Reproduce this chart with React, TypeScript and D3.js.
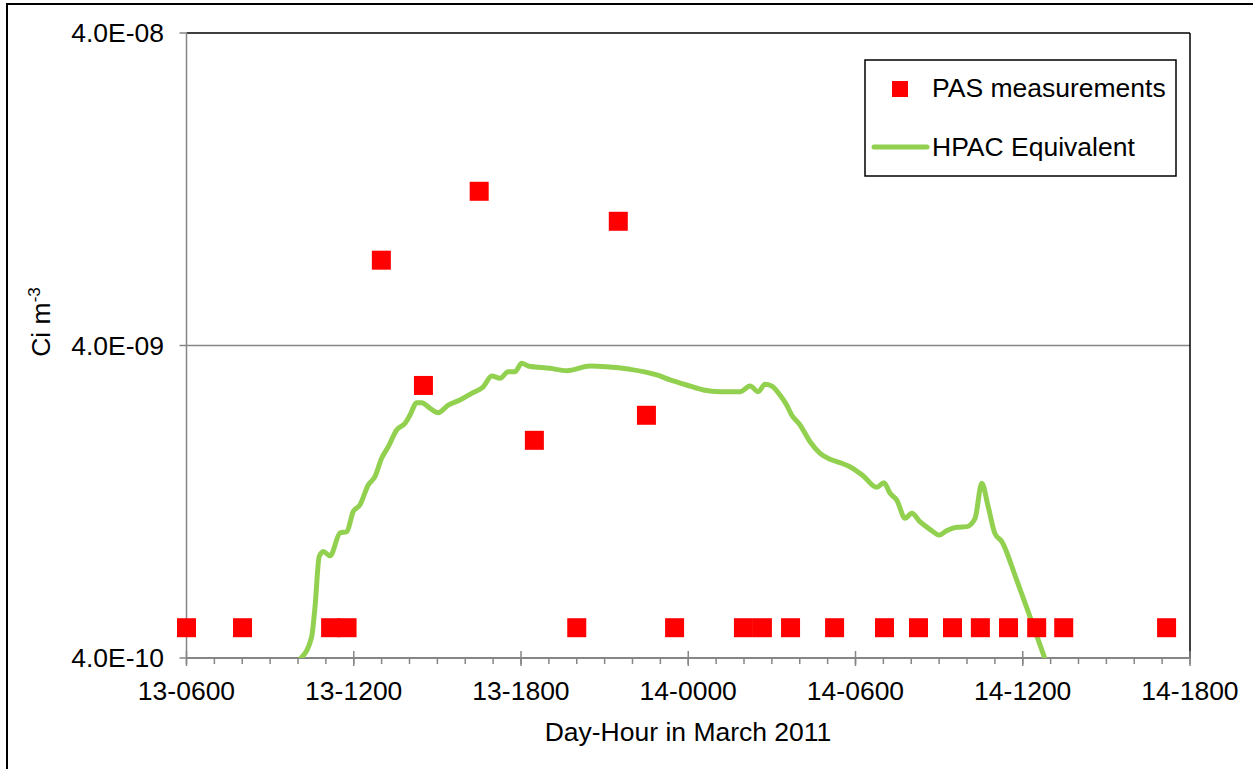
import React from "react";
import * as d3 from "d3";

// Hours counted from 13 March 00:00
const hpacHours = [10.11, 10.49, 10.61, 10.76, 10.91, 11.15, 11.51, 11.75, 11.98, 12.22, 12.52, 12.76, 13.0, 13.24, 13.54, 13.84, 14.02, 14.26, 14.44, 14.74, 15.03, 15.39, 15.81, 16.23, 16.65, 16.95, 17.25, 17.54, 17.78, 18.03, 18.26, 19.04, 19.64, 20.48, 21.07, 21.91, 22.87, 23.35, 23.94, 24.54, 25.14, 25.86, 26.22, 26.51, 26.75, 26.99, 27.29, 27.53, 27.71, 28.01, 28.37, 28.73, 29.09, 29.44, 29.8, 30.28, 30.76, 31.02, 31.24, 31.48, 31.78, 32.02, 32.31, 32.67, 33.01, 33.27, 33.63, 33.99, 34.29, 34.53, 34.76, 35.0, 35.25, 35.78, 36.26, 36.8];
const hpacValues = [4.0e-10, 4.68e-10, 5.82e-10, 8.44e-10, 8.76e-10, 8.49e-10, 1.005e-9, 1.014e-9, 1.176e-9, 1.235e-9, 1.431e-9, 1.522e-9, 1.742e-9, 1.898e-9, 2.146e-9, 2.254e-9, 2.398e-9, 2.624e-9, 2.624e-9, 2.518e-9, 2.438e-9, 2.58e-9, 2.677e-9, 2.812e-9, 2.953e-9, 3.196e-9, 3.141e-9, 3.298e-9, 3.298e-9, 3.508e-9, 3.44e-9, 3.381e-9, 3.323e-9, 3.44e-9, 3.422e-9, 3.357e-9, 3.22e-9, 3.103e-9, 2.99e-9, 2.882e-9, 2.846e-9, 2.846e-9, 2.968e-9, 2.846e-9, 3.005e-9, 2.968e-9, 2.778e-9, 2.58e-9, 2.398e-9, 2.227e-9, 1.969e-9, 1.808e-9, 1.729e-9, 1.687e-9, 1.638e-9, 1.53e-9, 1.407e-9, 1.456e-9, 1.346e-9, 1.281e-9, 1.12e-9, 1.162e-9, 1.092e-9, 1.032e-9, 9.9e-10, 1.022e-9, 1.048e-9, 1.053e-9, 1.12e-9, 1.449e-9, 1.22e-9, 1.002e-9, 9.43e-10, 7.11e-10, 5.42e-10, 3.97e-10];

const pasHours = [6.0, 8.01, 11.17, 11.76, 12.99, 14.5, 16.5, 18.48, 20.0, 21.49, 22.5, 23.51, 25.98, 26.66, 27.67, 29.25, 31.04, 32.26, 33.48, 34.48, 35.49, 36.5, 37.47, 41.16];
const pasValues = [5.0e-10, 5.0e-10, 5.0e-10, 5.0e-10, 7.5e-9, 2.98e-9, 1.246e-8, 1.989e-9, 5.0e-10, 9.99e-9, 2.392e-9, 5.0e-10, 5.0e-10, 5.0e-10, 5.0e-10, 5.0e-10, 5.0e-10, 5.0e-10, 5.0e-10, 5.0e-10, 5.0e-10, 5.0e-10, 5.0e-10, 5.0e-10];

const xTickHours = [6, 12, 18, 24, 30, 36, 42];
const xTickLabels = ["13-0600", "13-1200", "13-1800", "14-0000", "14-0600", "14-1200", "14-1800"];
const yTickValues = [4.0e-10, 4.0e-9, 4.0e-8];
const yTickLabels = ["4.0E-10", "4.0E-09", "4.0E-08"];
const seriesNames = ["PAS measurements", "HPAC Equivalent"];

const W = 1253;
const H = 769;
const FONT = "'Liberation Sans', Arial, sans-serif";
const FS = 26.5;
const GRAY = "#868686";
const GREEN = "#92D050";
const RED = "#FF0000";

export default function App() {
  const left = 186.5, right = 1190, top = 33, bottom = 658;
  const x = d3.scaleLinear().domain([6, 42]).range([left, right]);
  const y = d3.scaleLog().domain([4.0e-10, 4.0e-8]).range([bottom, top]);

  const linePts: [number, number][] = hpacHours.map((h, i) => [h, hpacValues[i]]);
  const lineGen = d3
    .line<[number, number]>()
    .x((d) => x(d[0]))
    .y((d) => y(d[1]))
    .curve(d3.curveMonotoneX);

  const minorHours = d3.range(6, 43, 1);
  const ms = 19;

  return (
    <svg width={W} height={H} style={{ position: "absolute", left: 0, top: 0, background: "#fff" }} fontFamily={FONT}>
      <rect x={0} y={0} width={W} height={H} fill="#fff" />
      {/* outer chart border */}
      <rect x={7} y={4} width={W + 20} height={H + 20} fill="none" stroke="#000" strokeWidth={2} />
      <defs>
        <clipPath id="plotClip">
          <rect x={left} y={top} width={right - left} height={bottom - top} />
        </clipPath>
      </defs>
      {/* gridlines */}
      {yTickValues.slice(1, 2).map((v) => (
        <line key={v} x1={left} x2={right} y1={y(v)} y2={y(v)} stroke={GRAY} strokeWidth={1.5} />
      ))}
      {/* plot area border top/right */}
      <line x1={left} x2={right} y1={top} y2={top} stroke="#000" strokeWidth={1.5} />
      <line x1={right} x2={right} y1={top} y2={bottom} stroke="#000" strokeWidth={1.5} />
      {/* y axis */}
      <line x1={left} x2={left} y1={top} y2={bottom} stroke={GRAY} strokeWidth={1.5} />
      {yTickValues.map((v, i) => (
        <g key={v}>
          <line x1={left - 7} x2={left} y1={y(v)} y2={y(v)} stroke={GRAY} strokeWidth={1.5} />
          <text x={164} y={y(v)} dy="0.35em" textAnchor="end" fontSize={FS} fill="#000">
            {yTickLabels[i]}
          </text>
        </g>
      ))}
      {/* x axis */}
      <line x1={left} x2={right} y1={bottom} y2={bottom} stroke={GRAY} strokeWidth={2} />
      {minorHours.map((h) => (
        <line key={"m" + h} x1={x(h)} x2={x(h)} y1={bottom} y2={bottom + 6} stroke={GRAY} strokeWidth={1.5} />
      ))}
      {xTickHours.map((h, i) => (
        <g key={h}>
          <line x1={x(h)} x2={x(h)} y1={bottom - 7} y2={bottom + 8} stroke={GRAY} strokeWidth={1.5} />
          <text x={x(h)} y={700} textAnchor="middle" fontSize={FS} fill="#000">
            {xTickLabels[i]}
          </text>
        </g>
      ))}
      {/* axis titles */}
      <text x={688} y={741} textAnchor="middle" fontSize={FS} fill="#000">
        Day-Hour in March 2011
      </text>
      <text transform="translate(50,322) rotate(-90)" textAnchor="middle" fontSize={FS} fill="#000">
        Ci m<tspan fontSize={17} dy={-10}>-3</tspan>
      </text>
      {/* HPAC line */}
      <g clipPath="url(#plotClip)">
        <path d={lineGen(linePts) || ""} fill="none" stroke={GREEN} strokeWidth={5} strokeLinejoin="round" strokeLinecap="round" />
      </g>
      {/* PAS markers */}
      {pasHours.map((h, i) => (
        <rect key={"p" + i} x={x(h) - ms / 2} y={y(pasValues[i]) - ms / 2} width={ms} height={ms} fill={RED} />
      ))}
      {/* legend */}
      <rect x={865} y={60} width={311} height={116} fill="#fff" stroke="#000" strokeWidth={1.5} />
      <rect x={892} y={81} width={16} height={16} fill={RED} />
      <text x={932} y={97} fontSize={FS} fill="#000">
        {seriesNames[0]}
      </text>
      <line x1={874} x2={927} y1={147} y2={147} stroke={GREEN} strokeWidth={5} strokeLinecap="round" />
      <text x={932} y={156} fontSize={FS} fill="#000">
        {seriesNames[1]}
      </text>
    </svg>
  );
}
